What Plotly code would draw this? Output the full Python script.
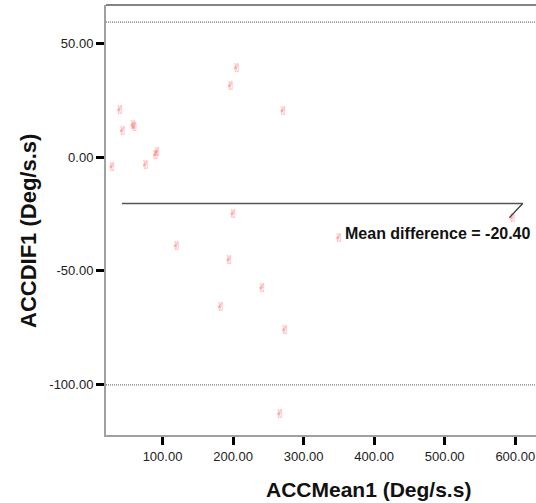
import plotly.graph_objects as go

# Data (Bland-Altman plot)
acc_mean = [28.8, 39.8, 43.6, 58.5, 60.5, 76.2, 90.5, 92.5, 120.1, 182.5,
            194.7, 196.7, 200.4, 205.2, 241.5, 266.5, 271.2, 273.6, 350.2, 596.4]
acc_dif = [-4.8, 20.1, 11.0, 13.5, 13.0, -3.7, 0.6, 1.8, -39.6, -66.4,
           -45.5, 31.0, -25.4, 38.8, -58.0, -113.3, 19.8, -76.3, -36.1, -27.1]

mean_diff = -20.40
upper_loa = 59.4
lower_loa = -100.2
mean_line_x = [42.6, 610.6]
leader_end = [591.6, -26.6]

x_ticks = [100, 200, 300, 400, 500, 600]
y_ticks = [50, 0, -50, -100]
x_range = [19.9, 629.4]
y_range = [-122.2, 66.9]

W, H = 536, 503
ML, MR, MT, MB = 106, 0, 5, 68
PW, PH = W - ML - MR, H - MT - MB


def px_to_paper(px, py):
    return (px - ML) / PW, (H - MB - py) / PH


fig = go.Figure()

fig.add_trace(go.Scatter(
    x=acc_mean, y=acc_dif, mode="text", text=["✌"] * len(acc_mean),
    textfont=dict(family="DejaVu Sans", size=12, color="rgba(255,80,80,0.85)"),
    textposition="middle center", hoverinfo="x+y", showlegend=False,
))

# Mean difference line
fig.add_trace(go.Scatter(
    x=mean_line_x, y=[mean_diff, mean_diff], mode="lines",
    line=dict(color="#555555", width=1.5), showlegend=False, hoverinfo="skip",
))
# Leader line
fig.add_trace(go.Scatter(
    x=[mean_line_x[1], leader_end[0]], y=[mean_diff, leader_end[1]], mode="lines",
    line=dict(color="#333333", width=1.2), showlegend=False, hoverinfo="skip",
))

for yv in (upper_loa, lower_loa):
    fig.add_shape(type="line", xref="paper", x0=0, x1=1, yref="y", y0=yv, y1=yv,
                  line=dict(color="#777777", width=1.2, dash="1px,1px"))

# top frame line
fig.add_shape(type="line", xref="paper", x0=0, x1=1, yref="paper", y0=1, y1=1,
              line=dict(color="#5a5a5a", width=1.5))

fig.add_annotation(x=mean_line_x[1] + 14, y=leader_end[1] - 2.5, xref="x", yref="y",
                   text="<b>Mean difference = -20.40</b>", showarrow=False,
                   xanchor="right", yanchor="top",
                   font=dict(family="Liberation Sans", size=16, color="#111111"))

tx, ty = px_to_paper(368, 489)
fig.add_annotation(x=tx, y=ty, xref="paper", yref="paper", text="<b>ACCMean1 (Deg/s.s)</b>",
                   showarrow=False, xanchor="center", yanchor="middle",
                   font=dict(family="Liberation Sans", size=21, color="#111111"))
tx, ty = px_to_paper(28, 231)
fig.add_annotation(x=tx, y=ty, xref="paper", yref="paper", text="<b>ACCDIF1 (Deg/s.s)</b>",
                   showarrow=False, xanchor="center", yanchor="middle", textangle=-90,
                   font=dict(family="Liberation Sans", size=22, color="#111111"))

fig.update_layout(
    width=W, height=H,
    margin=dict(l=ML, r=MR, t=MT, b=MB),
    paper_bgcolor="white", plot_bgcolor="white",
    showlegend=False,
    font=dict(family="Liberation Sans", size=13, color="#222222"),
    xaxis=dict(range=x_range, tickvals=x_ticks, ticktext=[f"{v:.2f}" for v in x_ticks],
               showgrid=False, zeroline=False, showline=True, linecolor="#a0a0a0", linewidth=2,
               ticks="outside", ticklen=8, tickwidth=3, tickcolor="#000000", automargin=False),
    yaxis=dict(range=y_range, tickvals=y_ticks, ticktext=[f"{v:.2f}" for v in y_ticks],
               showgrid=False, zeroline=False, showline=True, linecolor="#a0a0a0", linewidth=2,
               ticks="outside", ticklen=8, tickwidth=3, tickcolor="#000000", automargin=False),
)

fig.write_html("out.html", config={"displayModeBar": False},
               post_script="document.body.style.margin='0';document.body.style.overflow='hidden';")
